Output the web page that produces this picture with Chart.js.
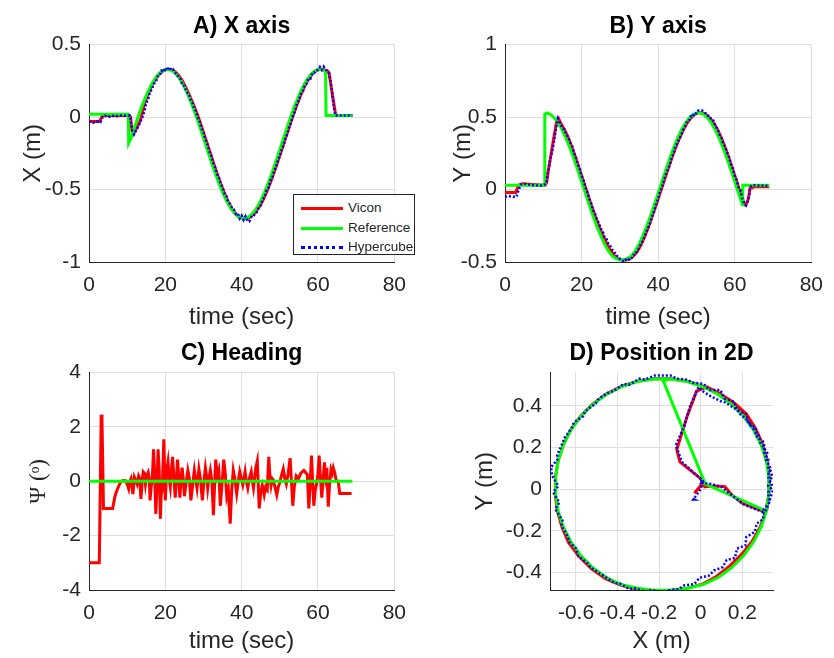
<!DOCTYPE html>
<html>
<head>
<meta charset="utf-8">
<script src="https://cdn.jsdelivr.net/npm/chart.js@4.4.1/dist/chart.umd.min.js"></script>
<style>
  body { margin: 0; background: #fff; }
  #wrap { position: relative; width: 834px; height: 658px; overflow: hidden; }
  canvas { position: absolute; }
  #legend {
    position: absolute; left: 293px; top: 194px; width: 122px; height: 61px;
    box-sizing: border-box; border: 1px solid #262626; background: #fff;
    font-family: 'Liberation Sans', Arial, sans-serif; font-size: 13.5px; color: #262626;
  }
  #legend .row { position: absolute; left: 0; width: 120px; height: 20px; line-height: 20px; }
  #legend .sw { position: absolute; left: 7px; top: 9px; width: 42px; border-top: 3px solid; }
  #legend .lb { position: absolute; left: 54px; top: 0; white-space: nowrap; }
</style>
</head>
<body>
<div id="wrap">
  <canvas id="cA" width="417" height="335" style="left:0;top:0"></canvas>
  <canvas id="cB" width="417" height="335" style="left:417px;top:0"></canvas>
  <canvas id="cC" width="417" height="329" style="left:0;top:329px"></canvas>
  <canvas id="cD" width="417" height="329" style="left:417px;top:329px"></canvas>
  <div id="legend"></div>
</div>
<script>
// ---- data ----
const seriesNames = ['Vicon', 'Reference', 'Hypercube'];
const seriesColors = ['#ff0000', '#00ff00', '#0000ff'];

// Reference trajectory
const tRef = [0, 10.3, 10.4, 11, 12, 13, 14, 15, 16, 17, 18, 19, 20, 21, 22, 23, 24, 25, 26, 27, 28, 29, 30,
  31, 32, 33, 34, 35, 36, 37, 38, 39, 40, 41, 42, 43, 44, 45, 46, 47, 48, 49, 50, 51, 52, 53, 54, 55, 56,
  57, 58, 59, 60, 61, 62, 62.1, 69];
const xRef = [0.02, 0.02, -0.18, -0.145, -0.065, 0.012, 0.084, 0.149, 0.207, 0.254, 0.291, 0.316, 0.328,
  0.328, 0.316, 0.291, 0.254, 0.207, 0.149, 0.084, 0.012, -0.065, -0.145, -0.225, -0.305, -0.382, -0.454,
  -0.519, -0.577, -0.624, -0.661, -0.686, -0.698, -0.698, -0.686, -0.661, -0.624, -0.577, -0.519, -0.454,
  -0.382, -0.305, -0.225, -0.145, -0.065, 0.012, 0.084, 0.149, 0.207, 0.254, 0.291, 0.316, 0.328, 0.328,
  0.316, 0.01, 0.01];
const yRef = [0.03, 0.03, 0.52, 0.528, 0.516, 0.491, 0.454, 0.407, 0.349, 0.284, 0.212, 0.135, 0.055,
  -0.025, -0.105, -0.182, -0.254, -0.319, -0.377, -0.424, -0.458, -0.476, -0.485, -0.485, -0.476, -0.458,
  -0.424, -0.377, -0.319, -0.254, -0.182, -0.105, -0.025, 0.055, 0.135, 0.212, 0.284, 0.349, 0.407, 0.454,
  0.491, 0.516, 0.528, 0.528, 0.516, 0.491, 0.454, 0.407, 0.349, 0.284, 0.212, 0.135, 0.055, -0.025,
  -0.105, 0.03, 0.03];

// Vicon measurement
const tVicon = [0, 2.8, 3.5, 4.5, 10.5, 10.9, 11.3, 11.7, 12.7, 13.5, 14,
  14.5, 15.5, 16.5, 17.5, 18.5, 19.5, 20.5, 21.5, 22.5, 23.5, 24.5, 25.5, 26.5, 27.5, 28.5, 29.5, 30.5,
  31.5, 32.5, 33.5, 34.5, 35.5, 36.5, 37.5, 38.5, 39.5, 40.5, 41.5, 42.5, 43.5, 44.5, 45.5, 46.5, 47.5,
  48.5, 49.5, 50.5, 51.5, 52.5, 53.5, 54.5, 55.5, 56.5, 57.5, 58.5, 59.5, 60.5, 61.5, 62.5,
  62.9, 63.5, 63.8, 64, 64.3, 64.6, 65, 69];
const xVicon = [-0.03, -0.03, 0.01, 0.01, 0.01, 0.0, -0.1, -0.115, -0.065, -0.02, 0.03,
  0.09, 0.16, 0.22, 0.265, 0.298, 0.32, 0.33, 0.328, 0.314, 0.287, 0.248, 0.198, 0.14, 0.077, 0.01,
  -0.066, -0.146, -0.226, -0.307, -0.385, -0.458, -0.525, -0.585, -0.636, -0.668, -0.69, -0.7, -0.699,
  -0.686, -0.661, -0.625, -0.578, -0.52, -0.455, -0.382, -0.305, -0.225, -0.145, -0.065, 0.012, 0.086,
  0.153, 0.212, 0.26, 0.296, 0.32, 0.331, 0.329, 0.318,
  0.305, 0.2, 0.15, 0.117, 0.07, 0.02, 0.01, 0.01];
const yVicon = [-0.02, -0.02, 0.03, 0.04, 0.03, 0.05, 0.13, 0.19, 0.35, 0.47, 0.49,
  0.46, 0.415, 0.36, 0.29, 0.215, 0.135, 0.055, -0.025, -0.105, -0.18, -0.25, -0.312, -0.368, -0.418,
  -0.455, -0.476, -0.486, -0.488, -0.48, -0.46, -0.43, -0.383, -0.323, -0.256, -0.18, -0.103, -0.024,
  0.056, 0.136, 0.213, 0.285, 0.35, 0.408, 0.456, 0.493, 0.518, 0.53, 0.53, 0.518, 0.493, 0.458, 0.413,
  0.356, 0.29, 0.216, 0.137, 0.056, -0.024, -0.1,
  -0.108, -0.068, -0.028, 0.012, 0.015, 0.012, 0.02, 0.02];

// Hypercube estimate
const tHyper = [0, 1, 2, 3, 3.6, 4.2, 5, 6, 7, 8, 9, 10, 10.7, 11.3, 11.8, 12.6, 13.2, 13.8, 14.2,
  14.5, 15, 15.5, 16, 16.5, 17, 17.5, 18, 18.5, 19, 19.5, 20, 20.5, 21, 21.5, 22, 22.5, 23, 23.5, 24,
  24.5, 25, 25.5, 26, 26.5, 27, 27.5, 28, 28.5, 29, 29.5, 30, 30.5, 31, 31.5, 32, 32.5, 33, 33.5, 34,
  34.5, 35, 35.5, 36, 36.5, 37, 37.5, 38, 38.5, 39, 39.5, 40, 40.5, 41, 41.5, 42, 42.5, 43, 43.5, 44,
  44.5, 45, 45.5, 46, 46.5, 47, 47.5, 48, 48.5, 49, 49.5, 50, 50.5, 51, 51.5, 52, 52.5, 53, 53.5, 54,
  54.5, 55, 55.5, 56, 56.5, 57, 57.5, 58, 58.5, 59, 59.5, 60, 60.5, 61, 61.5, 62, 62.5,
  62.9, 63.5, 63.8, 64, 64.3, 64.6, 69];
const xHyper = [-0.03, -0.04, -0.03, -0.035, 0.0, 0.01, 0.0, 0.01, 0.005, 0.01, 0.012, 0.008, 0.01,
  -0.09, -0.12, -0.08, -0.05, -0.01, 0.01,
  0.04, 0.1, 0.12, 0.175, 0.19, 0.23, 0.24, 0.28, 0.285, 0.32,
  0.31, 0.34, 0.322, 0.345, 0.325, 0.33, 0.305, 0.3, 0.27, 0.26,
  0.22, 0.215, 0.175, 0.165, 0.125, 0.105, 0.065, 0.04, -0.005, -0.03,
  -0.08, -0.105, -0.155, -0.185, -0.235, -0.265, -0.315, -0.345, -0.39, -0.415,
  -0.46, -0.485, -0.53, -0.545, -0.59, -0.6, -0.63, -0.64, -0.67, -0.665,
  -0.7, -0.68, -0.71, -0.685, -0.715, -0.72, -0.69, -0.69, -0.665, -0.655,
  -0.62, -0.61, -0.565, -0.555, -0.505, -0.49, -0.44, -0.42, -0.37, -0.345,
  -0.295, -0.27, -0.22, -0.195, -0.145, -0.115, -0.065, -0.035, 0.015, 0.04,
  0.095, 0.115, 0.16, 0.175, 0.22, 0.23, 0.265, 0.265, 0.305, 0.305,
  0.325, 0.325, 0.345, 0.325, 0.348, 0.328, 0.315,
  0.3, 0.21, 0.15, 0.1, 0.05, 0.01, 0.012];
const yHyper = [-0.05, -0.045, -0.05, -0.05, 0.0, 0.035, 0.04, 0.035, 0.03, 0.03, 0.025, 0.03, 0.04,
  0.13, 0.21, 0.3, 0.4, 0.49, 0.47,
  0.45, 0.42, 0.415, 0.38, 0.36, 0.325, 0.305, 0.255, 0.225, 0.175,
  0.145, 0.095, 0.065, 0.015, -0.015, -0.065, -0.095, -0.145, -0.165, -0.205,
  -0.23, -0.27, -0.285, -0.33, -0.34, -0.375, -0.39, -0.415, -0.425, -0.455,
  -0.462, -0.48, -0.485, -0.497, -0.483, -0.492, -0.476, -0.478, -0.452, -0.45,
  -0.42, -0.405, -0.375, -0.355, -0.32, -0.285, -0.255, -0.225, -0.175, -0.15,
  -0.095, -0.065, -0.015, 0.015, 0.065, 0.105, 0.14, 0.165, 0.22, 0.245,
  0.295, 0.32, 0.35, 0.375, 0.41, 0.435, 0.465, 0.47, 0.505, 0.5,
  0.53, 0.525, 0.545, 0.545, 0.545, 0.53, 0.525, 0.51, 0.505, 0.475,
  0.475, 0.435, 0.42, 0.38, 0.36, 0.315, 0.295, 0.255, 0.225, 0.175,
  0.145, 0.095, 0.065, 0.015, -0.005, -0.065, -0.1,
  -0.11, -0.075, -0.03, 0.01, 0.025, 0.03, 0.025];

// Heading (degrees)
const tHeadRef = [0, 69];
const headRef = [0, 0];
const tHead = [0, 2.7, 3.2, 3.4, 3.8, 6.2, 6.8, 7.4, 8.2, 8.7, 9.5, 10.0, 10.4, 10.7, 11.0, 11.3, 11.5,
  11.9, 12.2, 12.6, 13.0, 13.3, 13.6, 14.0, 14.2, 14.5, 14.8, 15.1, 15.5, 15.8, 16.0, 16.3, 16.6, 16.9,
  17.2, 17.5, 17.8, 18.1, 18.4, 18.7, 18.9, 19.2, 19.6, 19.8, 20.0, 20.3, 20.7, 21.0, 21.3, 21.6, 21.9,
  22.2, 22.6, 22.9, 23.2, 23.5, 23.8, 24.1, 24.4, 24.7, 25.0, 25.4, 25.9, 26.3, 26.7, 27.1, 27.6, 27.9,
  28.3, 28.8, 29.2, 29.7, 30.1, 30.5, 30.8, 31.1, 31.4, 31.8, 32.2, 32.6, 32.9, 33.2, 33.6, 34.0, 34.4,
  34.8, 35.3, 35.7, 36.1, 36.5, 37.0, 37.4, 37.8, 38.2, 38.7, 39.1, 39.5, 39.9, 40.3, 40.6, 40.9, 41.2,
  41.6, 42.0, 42.5, 42.8, 43.1, 43.4, 43.7, 44.1, 44.4, 44.6, 45.0, 45.4, 45.9, 46.3, 46.7, 47.1, 47.4,
  47.7, 48.0, 48.3, 48.7, 49.2, 49.6, 50.0, 50.4, 50.9, 51.3, 51.7, 52.2, 52.7, 53.0, 53.4, 53.8, 54.3,
  54.9, 55.5, 56.3, 57.2, 57.6, 57.9, 58.3, 58.6, 58.9, 59.3, 59.7, 60.0, 60.3, 60.6, 61.0, 61.3, 61.7,
  62.0, 62.3, 62.7, 63.0, 63.4, 63.7, 64.0, 64.4, 64.8, 65.3, 65.7, 68.8];
const headVicon = [-3, -3, 2.45, 2.3, -1.0, -1.0, -0.55, -0.3, -0.05, 0.02, 0.03, -0.1, -0.28, 0.0, 0.1,
  -0.2, -0.47, 0.15, 0.05, -0.1, 0.2, 0.1, -0.65, 0.1, 0.35, 0.3, -0.1, 0.2, 0.33, 0.1, -0.7, -0.2, 0.1,
  1.18, 0.3, -1.2, -0.2, 1.18, 0.4, -1.38, -0.5, -0.3, 1.55, 0.5, -0.7, 0.3, 0.7, 0.1, -0.2, 0.4, 0.9,
  0.2, -0.6, 0.1, 0.8, 0.2, -0.6, 0.0, 0.5, 0.1, -0.55, -0.1, 0.4, 0.1, -0.7, -0.2, 0.4, 0.1, -0.25,
  0.45, 0.1, -0.7, 0.0, 0.5, 0.2, -0.25, 0.1, 0.4, 0.0, -1.25, -0.2, 0.8, 0.2, 0.4, -0.9, -0.2, 0.8, 0.3,
  -0.55, -0.3, -1.56, -0.3, 0.4, 0.1, -0.45, 0.0, 0.35, 0.1, -0.13, 0.1, 0.35, 0.0, -0.25, 0.1, 0.35,
  0.0, -0.25, 0.1, 0.5, 0.75, -0.3, -1.0, -0.4, -0.15, -0.5, -0.2, -0.3, 0.9, 0.2, -0.15, 0.1, 0.05,
  -0.2, -0.5, -0.2, -0.05, 0.2, 0.45, 0.1, -0.1, 0.3, 0.85, 0.1, -0.9, -0.2, 0.2, 0.1, 0.3, 0.4, 0.25,
  -1.0, -0.2, 0.95, 0.0, -0.9, -0.3, -0.05, 0.3, 0.95, 0.2, -0.6, 0.0, 0.7, 0.2, 0.5, -0.93, -0.2, 0.43,
  0.3, 0.5, 0.3, 0.0, 0.0, -0.45, -0.45];

// ---- drawing ----
const FONT = "'Liberation Sans', Arial, sans-serif";
const INK = '#262626';
const GRID = '#dfdfdf';

function pts(xs, ys) {
  return xs.map((x, i) => ({ x: x, y: ys[i] }));
}

function line(label, data, i) {
  return {
    label: label,
    data: data,
    showLine: true,
    borderColor: seriesColors[i],
    backgroundColor: seriesColors[i],
    borderWidth: i === 2 ? 2.5 : 3,
    borderDash: i === 2 ? [2, 2] : [],
    pointRadius: 0,
    fill: false,
    tension: 0
  };
}

function axis(o) {
  return {
    type: 'linear',
    min: o.min,
    max: o.max,
    ticks: {
      stepSize: o.step, includeBounds: false, autoSkip: false,
      maxRotation: 0, minRotation: 0, padding: o.tickPad,
      color: INK, font: { family: FONT, size: 21 },
      callback: v => String(Math.round(v * 100) / 100)
    },
    grid: { color: GRID, drawTicks: false, lineWidth: 1 },
    border: { display: true, color: INK, width: 1 },
    title: {
      display: true, text: o.title, color: INK,
      font: o.titleFont || { family: FONT, size: 24 },
      padding: o.titlePad
    },
    afterFit: o.fit
  };
}

function panel(id, datasets, o) {
  return new Chart(document.getElementById(id), {
    type: 'scatter',
    data: { datasets: datasets },
    options: {
      responsive: false,
      animation: false,
      events: [],
      layout: { padding: { right: o.padRight } },
      plugins: {
        legend: { display: false },
        tooltip: { enabled: false },
        title: {
          display: true, text: o.title, fullSize: false, color: '#000',
          font: { family: FONT, size: 23, weight: 'bold' },
          padding: o.titlePad
        }
      },
      scales: {
        x: axis(Object.assign({ tickPad: 11, fit: s => { s.height = o.xHeight; } }, o.x)),
        y: axis(Object.assign({ tickPad: 8, fit: s => { s.width = o.yWidth; } }, o.y))
      }
    }
  });
}

// A) X axis
panel('cA', [
  line('Hypercube', pts(tHyper, xHyper), 2),
  line('Reference', pts(tRef, xRef), 1),
  line('Vicon', pts(tVicon, xVicon), 0)
], {
  title: 'A) X axis', titlePad: { top: 13, bottom: 4 }, padRight: 14, yWidth: 89, xHeight: 73,
  x: { min: 0, max: 80, step: 20, title: 'time (sec)', titlePad: { top: 0, bottom: 3 } },
  y: { min: -1, max: 0.5, step: 0.5, title: 'X (m)', titlePad: { top: 19, bottom: 0 } }
});

// B) Y axis
panel('cB', [
  line('Hypercube', pts(tHyper, yHyper), 2),
  line('Reference', pts(tRef, yRef), 1),
  line('Vicon', pts(tVicon, yVicon), 0)
], {
  title: 'B) Y axis', titlePad: { top: 13, bottom: 4 }, padRight: 15, yWidth: 88, xHeight: 73,
  x: { min: 0, max: 80, step: 20, title: 'time (sec)', titlePad: { top: 0, bottom: 3 } },
  y: { min: -0.5, max: 1, step: 0.5, title: 'Y (m)', titlePad: { top: 32, bottom: 0 } }
});

// C) Heading
panel('cC', [
  line('Reference', pts(tHeadRef, headRef), 1),
  line('Vicon', pts(tHead, headVicon), 0)
], {
  title: 'C) Heading', titlePad: { top: 11, bottom: 5 }, padRight: 14, yWidth: 89, xHeight: 68,
  x: { min: 0, max: 80, step: 20, title: 'time (sec)', titlePad: { top: 0, bottom: 2 } },
  y: {
    min: -4, max: 4, step: 2, title: 'Ψ (ᵒ)', titlePad: { top: 25, bottom: 0 },
    titleFont: { family: "'Liberation Serif', 'DejaVu Serif', serif", size: 23 }
  }
});

// D) Position in 2D
panel('cD', [
  line('Hypercube', pts(xHyper, yHyper), 2),
  line('Reference', pts(xRef, yRef), 1),
  line('Vicon', pts(xVicon, yVicon), 0)
], {
  title: 'D) Position in 2D', titlePad: { top: 11, bottom: 5 }, padRight: 61, yWidth: 133, xHeight: 68,
  x: { min: -0.725, max: 0.348, step: 0.2, title: 'X (m)', titlePad: { top: 0, bottom: 2 } },
  y: { min: -0.484, max: 0.559, step: 0.2, title: 'Y (m)', titlePad: { top: 54, bottom: 0 } }
});

// legend of panel A
const legend = document.getElementById('legend');
seriesNames.forEach((name, i) => {
  const row = document.createElement('div');
  row.className = 'row';
  row.style.top = (3 + i * 19.5) + 'px';
  const sw = document.createElement('span');
  sw.className = 'sw';
  sw.style.borderTopColor = seriesColors[i];
  if (i === 2) sw.style.borderTopStyle = 'dotted';
  const lb = document.createElement('span');
  lb.className = 'lb';
  lb.textContent = name;
  row.appendChild(sw);
  row.appendChild(lb);
  legend.appendChild(row);
});
</script>
</body>
</html>
